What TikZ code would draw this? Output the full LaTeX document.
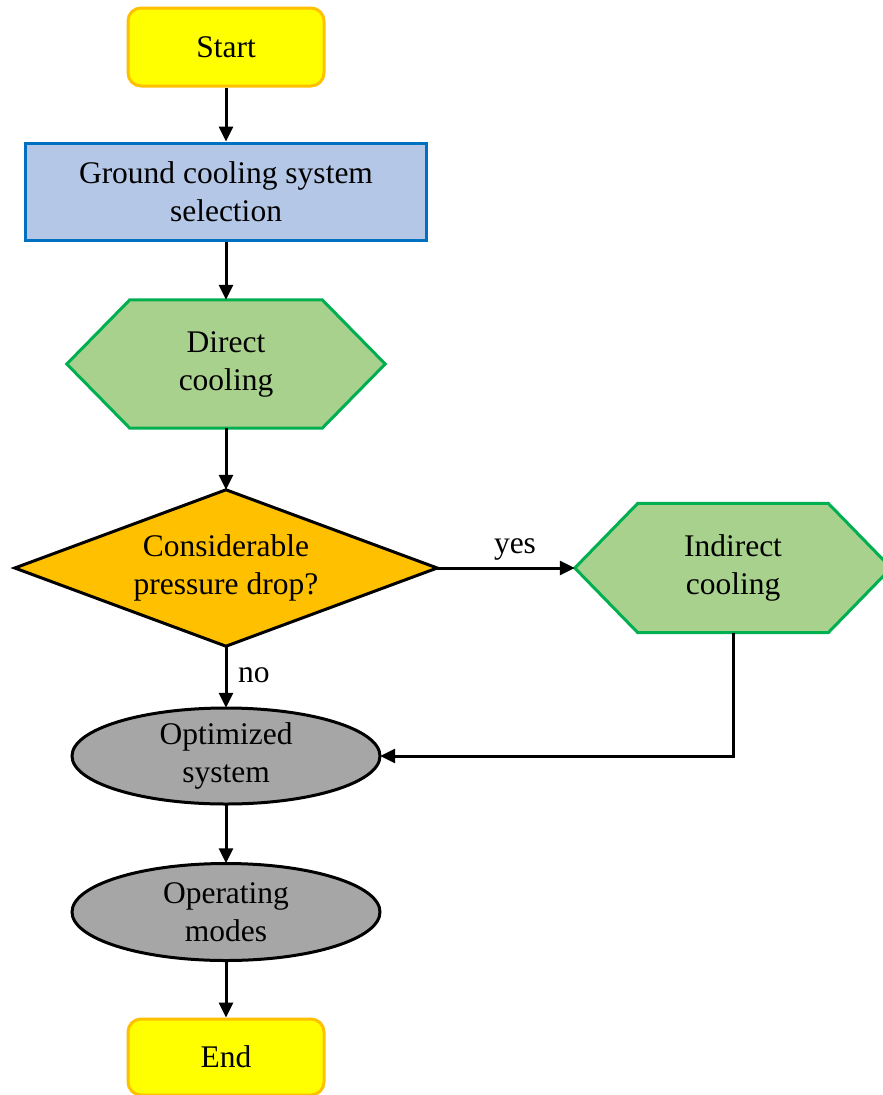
\documentclass[tikz,border=0pt]{standalone}
\usepackage{fontspec}
\setmainfont{Liberation Serif}
\usetikzlibrary{arrows.meta,backgrounds}
\definecolor{startfill}{HTML}{FFFF00}
\definecolor{startline}{HTML}{FFC000}
\definecolor{gcfill}{HTML}{B4C7E7}
\definecolor{gcline}{HTML}{0070C0}
\definecolor{hexfill}{HTML}{A9D18E}
\definecolor{hexline}{HTML}{00B050}
\definecolor{decfill}{HTML}{FFC000}
\definecolor{ellfill}{HTML}{A6A6A6}
\tikzset{
  x=1pt, y=-1pt,
  every node/.style={font=\fontsize{31.5}{38}\selectfont, align=center, inner sep=0pt},
  termbox/.style={draw=startline, fill=startfill, line width=3pt, rounded corners=13pt,
    minimum width=196pt, minimum height=78pt},
  gcbox/.style={draw=gcline, fill=gcfill, line width=3pt, minimum width=401pt, minimum height=97pt},
  holder/.style={rectangle, draw=none},
  hexdraw/.style={draw=hexline, fill=hexfill, line width=3pt, line join=miter},
  decdraw/.style={draw=black, fill=decfill, line width=3pt, line join=miter},
  elldraw/.style={draw=black, fill=ellfill, line width=3pt},
  conn/.style={line width=3pt, -{Triangle[length=15pt,width=14pt]}},
  lbl/.style={anchor=base}
}
\begin{document}
\begin{tikzpicture}
\useasboundingbox (0,0) rectangle (883,1095);
\node[termbox] (start) at (226,47) {Start};
\node[gcbox] (gc) at (226,191.5) {Ground cooling system\\selection};
\node[holder, minimum width=318pt, minimum height=128pt] (direct) at (226,364) {Direct\\cooling};
\node[holder, minimum width=422pt, minimum height=156pt] (dec) at (226,568) {Considerable\\pressure drop?};
\node[holder, minimum width=316pt, minimum height=129pt] (indirect) at (733,568) {Indirect\\cooling};
\node[holder, minimum width=308pt, minimum height=96pt] (opt) at (226,756) {Optimized\\system};
\node[holder, minimum width=308pt, minimum height=97pt] (opm) at (226,912) {Operating\\modes};
\node[termbox, minimum height=76pt] (end) at (226,1057) {End};
\begin{scope}[on background layer]
  \draw[hexdraw] (direct.west) -- ([xshift=63pt]direct.north west) -- ([xshift=-63pt]direct.north east)
    -- (direct.east) -- ([xshift=-63pt]direct.south east) -- ([xshift=63pt]direct.south west) -- cycle;
  \draw[hexdraw] (indirect.west) -- ([xshift=63pt]indirect.north west) -- ([xshift=-63pt]indirect.north east)
    -- (indirect.east) -- ([xshift=-63pt]indirect.south east) -- ([xshift=63pt]indirect.south west) -- cycle;
  \draw[decdraw] (dec.west) -- (dec.north) -- (dec.east) -- (dec.south) -- cycle;
  \draw[elldraw] (opt.center) ellipse [x radius=154pt, y radius=48pt];
  \draw[elldraw] (opm.center) ellipse [x radius=154pt, y radius=48.5pt];
\end{scope}
\draw[conn] (start.south) -- (gc.north);
\draw[conn] (gc.south) -- (direct.north);
\draw[conn] (direct.south) -- (dec.north);
\draw[conn] (dec.east) -- (indirect.west);
\draw[conn] (dec.south) -- (opt.north);
\draw[conn] (indirect.south) |- (opt.east);
\draw[conn] (opt.south) -- (opm.north);
\draw[conn] (opm.south) -- (end.north);
\node[lbl] (yes) at (515,553) {yes};
\node[lbl, anchor=base west] (no) at (238,682) {no};
\end{tikzpicture}
\end{document}
